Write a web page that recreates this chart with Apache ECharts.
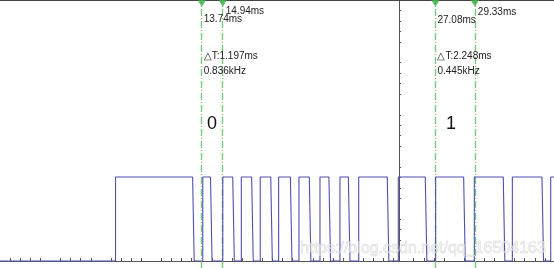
<!DOCTYPE html>
<html><head><meta charset="utf-8">
<script src="https://cdn.jsdelivr.net/npm/echarts@6/dist/echarts.min.js"></script>
<style>html,body{margin:0;padding:0;background:#fff}#c{width:554px;height:268px}</style>
</head><body><div id="c"></div><script>
// Time window (ms)
const tMin = 2.226, tMax = 33.847;
// Alternating edge times (ms), signal starts low; first edge is a rise
const edgeTimes = [8.82, 13.22, 13.80, 14.24, 14.94, 15.51, 16.00, 16.59, 17.08, 17.68,
  18.13, 18.80, 19.29, 19.88, 20.49, 21.00, 21.63, 22.11, 22.70, 24.33,
  24.96, 26.50, 27.09, 28.69, 29.30, 30.95, 31.47, 33.16, 33.66];
const lowLevel = 0, highLevel = 3.3;
const fallDuration = 0.09;
// Cursors
const cursorTimes = [13.74, 14.94, 27.08, 29.33];
const cursorLabels = ['13.74ms', '14.94ms', '27.08ms', '29.33ms'];
const deltaLabels = ['\u25B3T:1.197ms', '\u25B3T:2.248ms'];
const freqLabels = ['0.836kHz', '0.445kHz'];
const bitLabels = ['0', '1'];
const watermark = 'https://blog.csdn.net/qq_16504163';

const yMin = -0.275, yMax = 10.2536;

const trace = [[tMin, lowLevel]];
edgeTimes.forEach((t, i) => {
  if (i % 2 === 0) { trace.push([t, lowLevel]); trace.push([t, highLevel]); }
  else { trace.push([t, highLevel]); trace.push([t + fallDuration, lowLevel]); }
});
trace.push([tMax, edgeTimes.length % 2 ? highLevel : lowLevel]);

const chart = echarts.init(document.getElementById('c'), null, {renderer: 'canvas'});
const gray = '#555';
const font = '"Liberation Sans", Arial, sans-serif';
const txt = (text, x, y, size, extra) => Object.assign({
  type: 'text', left: x, top: y, z: 100,
  style: Object.assign({text: text, font: size + 'px ' + font, fill: '#222'}, extra || {})
});

chart.setOption({
  animation: false,
  backgroundColor: '#fff',
  grid: [
    {left: 0, right: 0, top: 0, bottom: 0},
    {left: -17, right: 0, top: 0, bottom: 7},
    {left: 399, right: 0, top: 0, bottom: 7},
    {left: 0, right: 155, top: 0, bottom: 7}
  ],
  xAxis: [
    {gridIndex: 0, type: 'value', min: tMin, max: tMax, show: false},
    {gridIndex: 1, type: 'value', min: -40, max: 14.9, interval: 5, position: 'bottom',
      axisLine: {show: true, onZero: false, lineStyle: {color: gray, width: 1}},
      axisTick: {show: false, inside: true}, axisLabel: {show: false}, splitLine: {show: false},
      minorTick: {show: true, splitNumber: 5, length: 3, lineStyle: {color: gray}}},
    {gridIndex: 1, type: 'value', min: -40, max: 14.9, position: 'top',
      axisLine: {show: true, onZero: false, lineStyle: {color: '#444', width: 2}},
      axisTick: {show: false}, axisLabel: {show: false}, splitLine: {show: false}},
    {gridIndex: 2, type: 'value', min: 0, max: 1, show: false},
    {gridIndex: 3, type: 'value', min: 0, max: 1, show: false}
  ],
  yAxis: [
    {gridIndex: 0, type: 'value', min: yMin, max: yMax, show: false},
    {gridIndex: 1, type: 'value', min: 0, max: 1, show: false},
    {gridIndex: 2, type: 'value', min: 0, max: 25, interval: 5, position: 'left',
      axisLine: {show: true, onZero: false, lineStyle: {color: gray, width: 1}},
      axisTick: {show: false, inside: true}, axisLabel: {show: false}, splitLine: {show: false},
      minorTick: {show: true, splitNumber: 5, length: 2, lineStyle: {color: gray}}},
    {gridIndex: 3, type: 'value', min: 0, max: 25, interval: 5, position: 'right',
      axisLine: {show: false}, axisTick: {show: false, inside: true}, axisLabel: {show: false},
      splitLine: {show: false},
      minorTick: {show: true, splitNumber: 5, length: 2, lineStyle: {color: gray}}}
  ],
  series: [
    {type: 'line', xAxisIndex: 0, yAxisIndex: 0, data: trace, showSymbol: false,
      lineStyle: {color: '#5050b0', width: 1.1}, z: 5,
      markLine: {silent: true, symbol: ['none', 'none'], label: {show: false},
        lineStyle: {color: '#7cc87c', width: 1.4, type: [7, 2, 1, 2], opacity: 1},
        data: cursorTimes.map(t => ({xAxis: t, lineStyle: {color: '#7cc87c'}}))}},
    {type: 'scatter', xAxisIndex: 0, yAxisIndex: 0, symbol: 'triangle', symbolRotate: 180,
      symbolSize: [9, 7], itemStyle: {color: '#3cb043'}, z: 10,
      data: cursorTimes.map(t => [t, yMax - 3.2 / 25.4545])}
  ]
});

const px = t => chart.convertToPixel({xAxisIndex: 0}, t);
const g = [];
const cursorLabelTop = [14, 6, 15, 7];
cursorTimes.forEach((t, i) => g.push(txt(cursorLabels[i], px(t) + (i % 2 ? 3 : 2), cursorLabelTop[i], 10)));
deltaLabels.forEach((s, i) => {
  const x = px(cursorTimes[i * 2]) + 2;
  g.push(txt(s, x, 51, 10));
  g.push(txt(freqLabels[i], x, 66, 10));
});
g.push(txt(bitLabels[0], 207, 115, 18, {fill: '#111'}));
g.push(txt(bitLabels[1], 446, 115, 18, {fill: '#111'}));
g.push(txt(watermark, 300, 240, 16, {fill: 'rgba(238,238,238,0.7)', stroke: 'rgba(180,180,180,0.6)', lineWidth: 0.6}));
chart.setOption({graphic: g});
</script></body></html>
